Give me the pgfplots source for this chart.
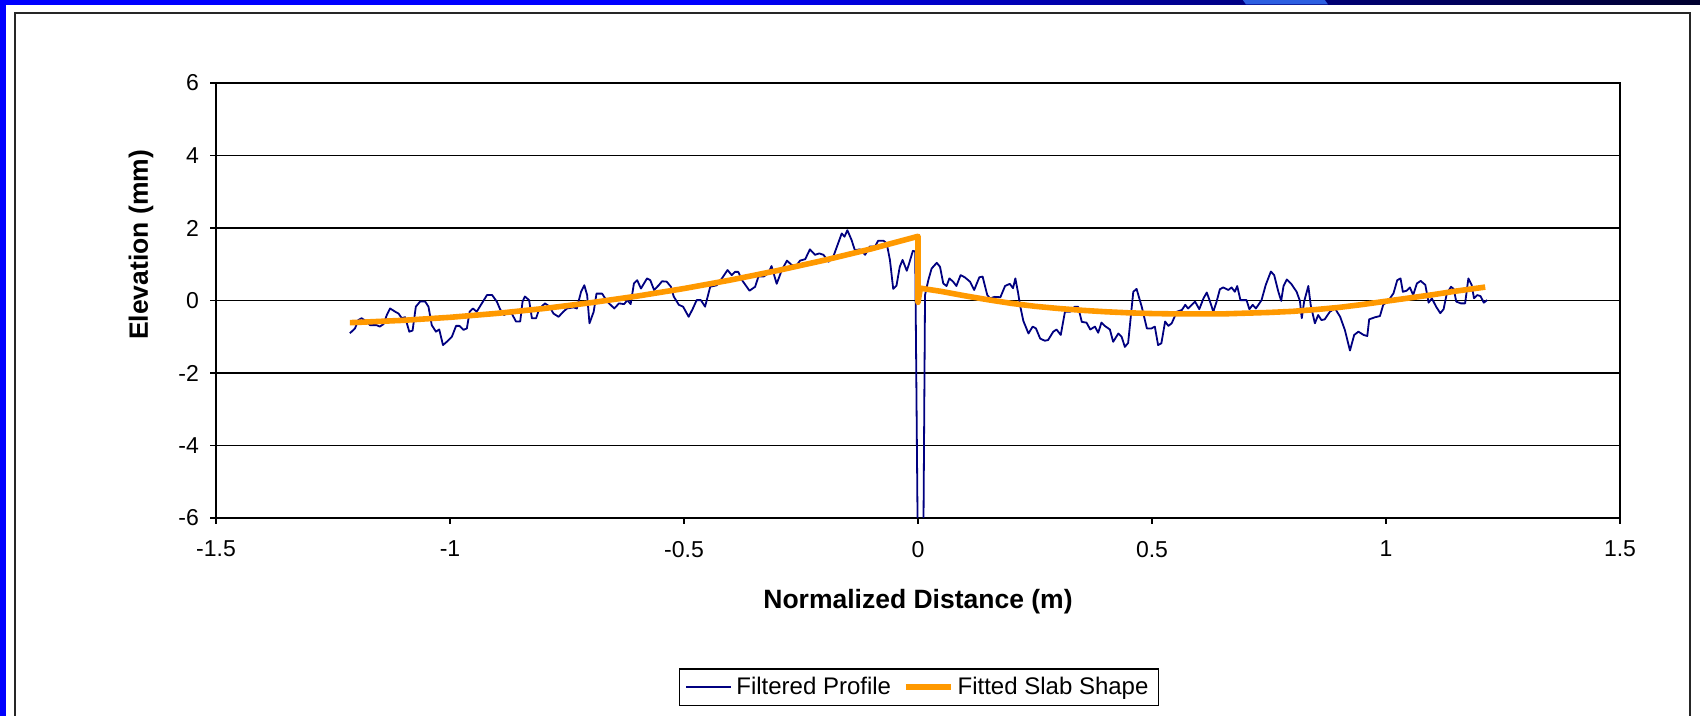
\documentclass[border=0pt]{standalone}
\usepackage{fontspec}
\setmainfont{Liberation Sans}
\usepackage{pgfplots}
\pgfplotsset{compat=1.18}

\definecolor{profileblue}{RGB}{0,0,128}
\definecolor{slaborange}{RGB}{255,153,0}
\definecolor{slideblue}{RGB}{0,0,255}
\definecolor{slidenavy}{RGB}{0,0,150}
\definecolor{slidedark}{RGB}{0,0,45}
\definecolor{slidewedge}{RGB}{45,95,225}

\begin{document}
\begin{tikzpicture}[x=0.5pt,y=0.5pt]
\useasboundingbox (0,0) rectangle (1700,716);
\clip (0,0) rectangle (1700,716);

\fill[white] (0,0) rectangle (1700,716);

% chart frame
\draw[black!85,line width=1pt] (15,-10) -- (15,703) -- (1690,703) -- (1690,-10);

% slide decoration: blue band on the left, shaded band on top
\fill[slideblue] (-5,-5) rectangle (6,720);
\shade[left color=slideblue,right color=slideblue] (-5,711.5) rectangle (701,720);
\shade[left color=slideblue,right color=slidenavy] (699,711.5) rectangle (1151,720);
\shade[left color=slidenavy,right color=slidedark] (1149,711.5) rectangle (1705,720);
\fill[slidewedge] (1240,720) -- (1322,720) -- (1328,711.5) -- (1246,711.5) -- cycle;

\begin{axis}[
  at={(108pt,99pt)}, anchor=south west,
  scale only axis, width=702pt, height=217.5pt,
  xmin=-1.5, xmax=1.5, ymin=-6, ymax=6,
  xtick={-1.5,-1,-0.5,0,0.5,1,1.5},
  ytick={-6,-4,-2,0,2,4,6},
  xtick pos=left, ytick pos=left,
  tick align=outside, major tick length=3pt,
  tick style={black,line width=0.6pt},
  axis line style={black,line width=0.9pt},
  ymajorgrids, grid style={black,line width=0.6pt},
  /pgf/number format/assume math mode=true,
  tick label style={font=\fontsize{11.5}{13}\selectfont},
  xticklabel style={yshift=-5pt},
  yticklabel style={xshift=-2pt},
  xlabel={\bfseries Normalized Distance (m)},
  ylabel={\bfseries Elevation (mm)},
  label style={font=\fontsize{13.25}{15}\selectfont},
  xlabel style={at={(axis description cs:0.5,-0.193)},anchor=center},
  ylabel style={at={(axis description cs:-0.0534,0.628)},anchor=center},
  legend columns=2,
  legend style={at={(axis description cs:0.5007,-0.389)},anchor=center,
    draw=black,line width=0.8pt,font=\fontsize{12}{14}\selectfont,
    /tikz/every even column/.append style={column sep=4pt}},
  legend image code/.code={\draw[#1] (0pt,0pt) -- (22.5pt,0pt);},
]

% measured profile after filtering
\addplot[profileblue,line width=0.9pt,line join=round] table {
x y
-1.214 -0.905
-1.203 -0.77
-1.196 -0.54
-1.189 -0.49
-1.178 -0.58
-1.171 -0.68
-1.157 -0.68
-1.150 -0.72
-1.142 -0.65
-1.135 -0.40
-1.128 -0.22
-1.117 -0.31
-1.110 -0.36
-1.103 -0.49
-1.096 -0.46
-1.087 -0.86
-1.080 -0.83
-1.073 -0.17
-1.064 -0.03
-1.053 -0.03
-1.046 -0.17
-1.039 -0.68
-1.030 -0.86
-1.023 -0.80
-1.015 -1.23
-1.007 -1.14
-0.996 -1.00
-0.987 -0.70
-0.980 -0.70
-0.971 -0.81
-0.964 -0.77
-0.958 -0.31
-0.951 -0.22
-0.943 -0.31
-0.932 -0.08
-0.921 0.15
-0.910 0.15
-0.900 -0.03
-0.893 -0.24
-0.885 -0.40
-0.878 -0.36
-0.868 -0.36
-0.859 -0.58
-0.850 -0.58
-0.845 -0.03
-0.840 0.11
-0.831 0.01
-0.825 -0.49
-0.816 -0.49
-0.809 -0.22
-0.797 -0.08
-0.787 -0.17
-0.779 -0.36
-0.768 -0.45
-0.758 -0.31
-0.750 -0.22
-0.736 -0.19
-0.729 -0.22
-0.720 0.24
-0.713 0.42
-0.707 0.15
-0.702 -0.63
-0.693 -0.31
-0.687 0.19
-0.675 0.19
-0.664 -0.03
-0.649 -0.22
-0.639 -0.08
-0.628 -0.10
-0.621 0.01
-0.614 -0.10
-0.607 0.47
-0.600 0.56
-0.592 0.33
-0.579 0.61
-0.572 0.56
-0.564 0.29
-0.554 0.42
-0.547 0.53
-0.537 0.52
-0.528 0.38
-0.522 0.11
-0.511 -0.12
-0.502 -0.17
-0.490 -0.45
-0.481 -0.22
-0.473 0.01
-0.464 0.01
-0.455 -0.17
-0.444 0.38
-0.430 0.42
-0.419 0.61
-0.407 0.84
-0.398 0.70
-0.391 0.79
-0.384 0.79
-0.376 0.56
-0.360 0.27
-0.348 0.38
-0.341 0.66
-0.330 0.66
-0.320 0.75
-0.313 0.95
-0.302 0.46
-0.291 0.84
-0.280 1.10
-0.270 0.98
-0.259 0.98
-0.252 1.10
-0.241 1.14
-0.231 1.41
-0.220 1.26
-0.211 1.30
-0.202 1.26
-0.191 1.07
-0.181 1.21
-0.172 1.53
-0.163 1.85
-0.157 1.76
-0.151 1.94
-0.142 1.67
-0.135 1.39
-0.124 1.41
-0.113 1.26
-0.103 1.49
-0.092 1.49
-0.085 1.65
-0.074 1.65
-0.067 1.58
-0.060 1.12
-0.053 0.32
-0.046 0.41
-0.039 0.93
-0.033 1.12
-0.024 0.82
-0.019 1.02
-0.011 1.37
-0.006 1.35
0.000 -7.5
0.011 -7.5
0.015 0.15
0.022 0.56
0.029 0.88
0.040 1.04
0.047 0.93
0.054 0.47
0.061 0.40
0.067 0.61
0.075 0.52
0.082 0.40
0.091 0.70
0.100 0.64
0.111 0.52
0.120 0.29
0.131 0.64
0.138 0.66
0.148 0.15
0.154 0.06
0.164 0.10
0.176 0.09
0.186 0.40
0.196 0.46
0.203 0.34
0.208 0.61
0.214 0.20
0.218 -0.13
0.225 -0.56
0.236 -0.91
0.245 -0.72
0.252 -0.77
0.261 -1.05
0.271 -1.11
0.278 -1.09
0.289 -0.86
0.296 -0.80
0.305 -0.95
0.314 -0.31
0.325 -0.31
0.335 -0.17
0.342 -0.17
0.350 -0.59
0.360 -0.61
0.368 -0.80
0.378 -0.72
0.385 -0.89
0.392 -0.61
0.399 -0.70
0.410 -0.80
0.417 -1.14
0.428 -0.91
0.435 -1.00
0.442 -1.28
0.449 -1.17
0.460 0.24
0.467 0.32
0.478 -0.17
0.489 -0.77
0.499 -0.77
0.506 -0.72
0.513 -1.23
0.520 -1.18
0.528 -0.58
0.535 -0.70
0.542 -0.63
0.553 -0.31
0.564 -0.26
0.571 -0.12
0.577 -0.22
0.592 -0.03
0.601 -0.24
0.610 0.06
0.617 0.22
0.624 -0.03
0.631 -0.31
0.638 -0.03
0.645 0.31
0.652 0.36
0.663 0.29
0.670 0.36
0.677 0.24
0.682 0.40
0.689 0.01
0.702 0.01
0.708 -0.24
0.715 -0.12
0.722 -0.22
0.734 0.01
0.743 0.43
0.754 0.80
0.761 0.70
0.770 0.24
0.776 -0.01
0.781 0.40
0.788 0.58
0.798 0.45
0.809 0.24
0.816 -0.01
0.820 -0.49
0.825 -0.03
0.834 0.40
0.839 -0.12
0.848 -0.63
0.855 -0.40
0.862 -0.54
0.869 -0.52
0.880 -0.31
0.891 -0.22
0.902 -0.45
0.912 -0.81
0.923 -1.38
0.932 -0.95
0.941 -0.86
0.952 -0.95
0.960 -0.98
0.964 -0.52
0.977 -0.46
0.987 -0.43
0.994 -0.12
1.005 -0.01
1.016 0.20
1.024 0.56
1.031 0.61
1.036 0.24
1.044 0.27
1.051 0.36
1.058 0.15
1.066 0.47
1.074 0.54
1.084 0.43
1.091 -0.06
1.098 0.06
1.107 -0.17
1.116 -0.35
1.123 -0.24
1.130 0.20
1.139 0.38
1.145 0.31
1.150 -0.03
1.160 -0.08
1.169 -0.08
1.176 0.61
1.183 0.43
1.188 0.06
1.195 0.15
1.202 0.12
1.209 -0.06
1.216 0.01
};
\addlegendentry{Filtered Profile}

% fitted slab shape, with the step at the joint
\addplot[slaborange,line width=2.8pt,line join=round] table {
x y
-1.214 -0.61
-1.2 -0.605
-1.1 -0.547
-1.0 -0.464
-0.9 -0.356
-0.8 -0.222
-0.7 -0.063
-0.6 0.121
-0.5 0.330
-0.4 0.566
-0.3 0.826
-0.2 1.112
-0.1 1.424
0.0 1.77
0.0 -0.05
0.005 0.34
0.05 0.25
0.10 0.13
0.15 0.02
0.20 -0.08
0.25 -0.16
0.30 -0.22
0.35 -0.27
0.40 -0.31
0.45 -0.34
0.50 -0.36
0.55 -0.37
0.60 -0.37
0.65 -0.37
0.70 -0.35
0.75 -0.33
0.80 -0.30
0.85 -0.25
0.90 -0.19
0.95 -0.11
1.00 -0.02
1.05 0.07
1.10 0.16
1.15 0.26
1.212 0.37
};
\addlegendentry{Fitted Slab Shape}
\end{axis}
\end{tikzpicture}
\end{document}
